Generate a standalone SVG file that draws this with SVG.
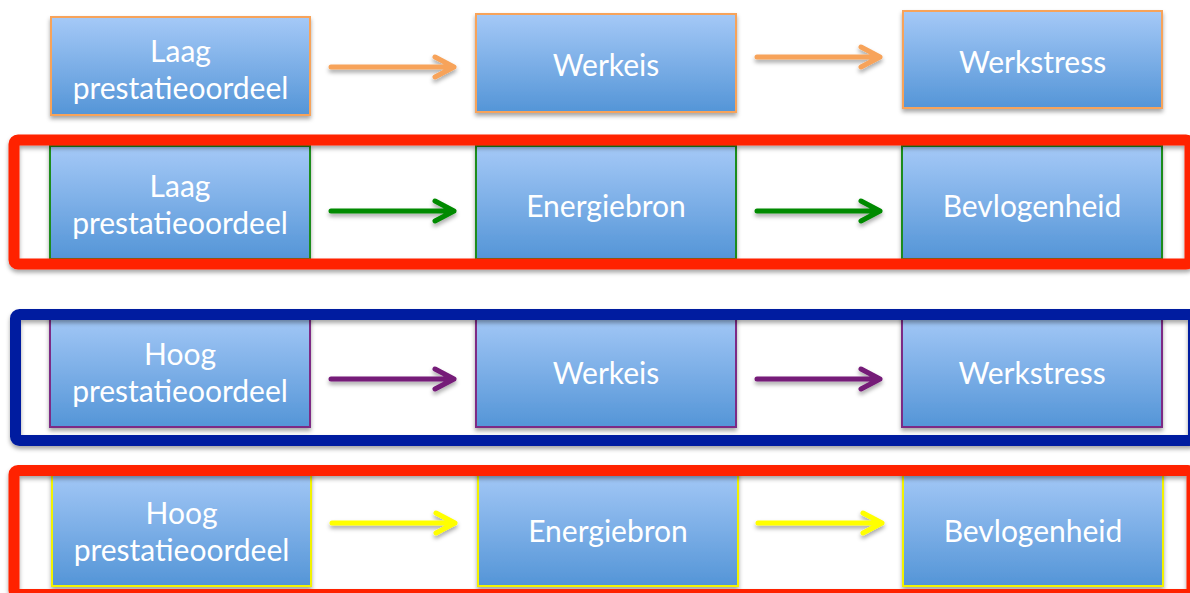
<svg xmlns="http://www.w3.org/2000/svg" width="1190" height="593" viewBox="0 0 1190 593">
  <defs>
    <linearGradient id="boxFill" x1="0" y1="0" x2="0" y2="1">
      <stop offset="0" stop-color="#a5c9f7"/>
      <stop offset="1" stop-color="#5495d7"/>
    </linearGradient>
    <filter id="shadow" x="-10%" y="-20%" width="120%" height="150%">
      <feDropShadow dx="0" dy="3" stdDeviation="2" flood-color="#000" flood-opacity="0.35"/>
    </filter>
  </defs>
  <style>
    .box { fill: url(#boxFill); stroke-width: 2; filter: url(#shadow); }
    .orange { stroke: #f7a35a; }
    .green { stroke: #1a8c1a; }
    .purple { stroke: #7d2a85; }
    .yellow { stroke: #f2f200; }
    .label { font-family: Lato, "Liberation Sans", sans-serif; font-size: 30px; fill: #ffffff; text-anchor: middle; }
    .frame { fill: none; stroke-width: 11; filter: url(#shadow); }
    .arrow { fill: none; stroke-width: 5; stroke-linecap: round; stroke-linejoin: round; }
  </style>

  <rect width="1190" height="593" fill="#ffffff"/>

  <!-- row 1 -->
  <g id="r1-laag">
    <rect class="box orange" x="51" y="17" width="259" height="98"/>
    <text class="label" x="180.5" y="62">Laag</text>
    <text class="label" x="180.5" y="99">prestatieoordeel</text>
  </g>
  <g id="r1-werkeis">
    <rect class="box orange" x="476" y="14" width="260" height="98"/>
    <text class="label" x="606" y="76">Werkeis</text>
  </g>
  <g id="r1-werkstress">
    <rect class="box orange" x="903" y="11" width="259" height="97"/>
    <text class="label" x="1032.5" y="73">Werkstress</text>
  </g>

  <!-- row 2 -->
  <g id="r2-laag">
    <rect class="box green" x="50" y="146" width="260" height="113"/>
    <text class="label" x="180" y="197">Laag</text>
    <text class="label" x="180" y="234">prestatieoordeel</text>
  </g>
  <g id="r2-energiebron">
    <rect class="box green" x="476" y="146" width="260" height="113"/>
    <text class="label" x="606" y="217">Energiebron</text>
  </g>
  <g id="r2-bevlogenheid">
    <rect class="box green" x="902" y="146" width="260" height="113"/>
    <text class="label" x="1032" y="217">Bevlogenheid</text>
  </g>

  <!-- row 3 -->
  <g id="r3-hoog">
    <rect class="box purple" x="50" y="314" width="260" height="113"/>
    <text class="label" x="180" y="365">Hoog</text>
    <text class="label" x="180" y="402">prestatieoordeel</text>
  </g>
  <g id="r3-werkeis">
    <rect class="box purple" x="476" y="314" width="260" height="113"/>
    <text class="label" x="606" y="384">Werkeis</text>
  </g>
  <g id="r3-werkstress">
    <rect class="box purple" x="902" y="314" width="260" height="113"/>
    <text class="label" x="1032" y="384">Werkstress</text>
  </g>

  <!-- row 4 -->
  <g id="r4-hoog">
    <rect class="box yellow" x="52" y="470" width="259" height="116"/>
    <text class="label" x="181.5" y="524">Hoog</text>
    <text class="label" x="181.5" y="561">prestatieoordeel</text>
  </g>
  <g id="r4-energiebron">
    <rect class="box yellow" x="478" y="470" width="260" height="116"/>
    <text class="label" x="608" y="542">Energiebron</text>
  </g>
  <g id="r4-bevlogenheid">
    <rect class="box yellow" x="903" y="470" width="260" height="116"/>
    <text class="label" x="1033" y="542">Bevlogenheid</text>
  </g>

  <!-- highlight frames around rows 2-4 -->
  <g id="frames">
    <rect class="frame" x="14" y="140" width="1176" height="124" rx="4" stroke="#ff2200"/>
    <rect class="frame" x="15.5" y="314.5" width="1178" height="126" rx="4" stroke="#001ca0"/>
    <rect class="frame" x="14" y="470.5" width="1178" height="124" rx="4" stroke="#ff2200"/>
  </g>

  <!-- connectors -->
  <g id="connectors" filter="url(#shadow)">
    <path class="arrow" stroke="#f7a35a" d="M331,67 H454 M435,57 L454,67 L435,77"/>
    <path class="arrow" stroke="#f7a35a" d="M757,57 H880 M861,47 L880,57 L861,67"/>
    <path class="arrow" stroke="#008a00" d="M331,211 H454 M435,201 L454,211 L435,221"/>
    <path class="arrow" stroke="#008a00" d="M757,211 H880 M861,201 L880,211 L861,221"/>
    <path class="arrow" stroke="#751a78" d="M331,379 H454 M435,369 L454,379 L435,389"/>
    <path class="arrow" stroke="#751a78" d="M757,379 H880 M861,369 L880,379 L861,389"/>
    <path class="arrow" stroke="#ffff00" d="M332,523 H455 M436,513 L455,523 L436,533"/>
    <path class="arrow" stroke="#ffff00" d="M758,523 H882 M863,513 L882,523 L863,533"/>
  </g>
</svg>
